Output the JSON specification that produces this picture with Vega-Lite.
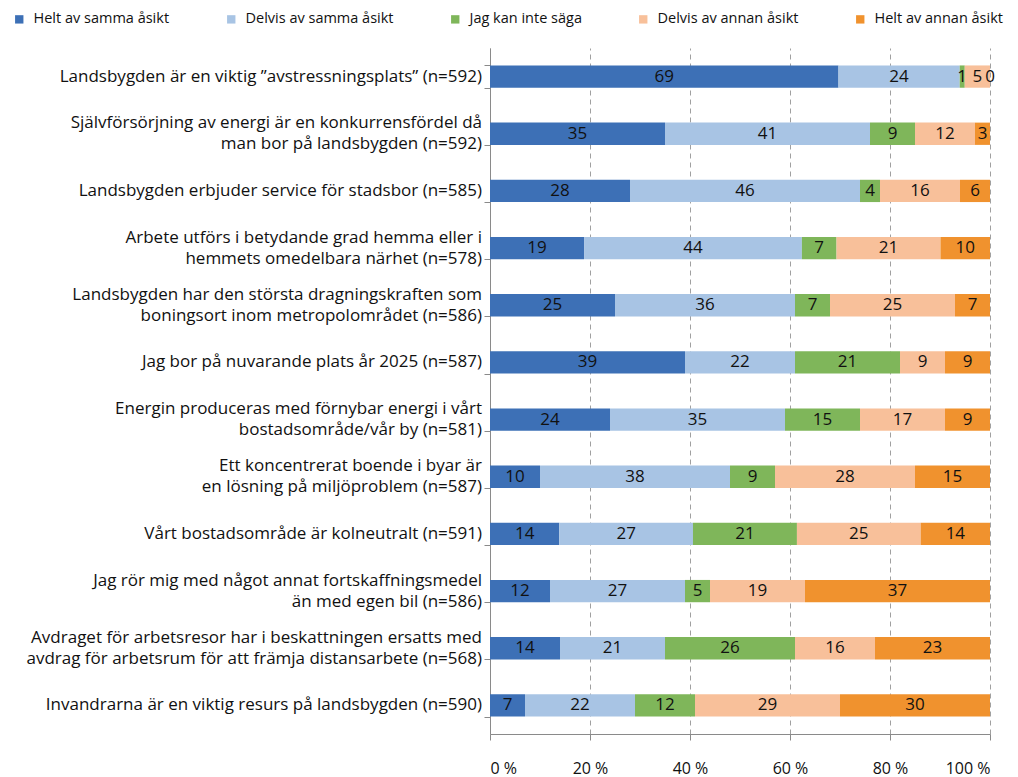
{
  "$schema": "https://vega.github.io/schema/vega-lite/v6.json",
  "width": 500,
  "height": 686,
  "autosize": "none",
  "padding": {"left": 490, "top": 48, "right": 28, "bottom": 43},
  "background": "white",
  "config": {"view": {"stroke": null}, "font": "Open Sans"},
  "datasets": {
    "answers": [
      {"k": 1, "r": "Helt av samma åsikt"},
      {"k": 2, "r": "Delvis av samma åsikt"},
      {"k": 3, "r": "Jag kan inte säga"},
      {"k": 4, "r": "Delvis av annan åsikt"},
      {"k": 5, "r": "Helt av annan åsikt"}
    ],
    "rows": [
      {"i": 1, "q": "Landsbygden är en viktig ”avstressningsplats” (n=592)", "Helt av samma åsikt": 69, "Delvis av samma åsikt": 24, "Jag kan inte säga": 1, "Delvis av annan åsikt": 5, "Helt av annan åsikt": 0},
      {"i": 2, "q": "Självförsörjning av energi är en konkurrensfördel då|man bor på landsbygden (n=592)", "Helt av samma åsikt": 35, "Delvis av samma åsikt": 41, "Jag kan inte säga": 9, "Delvis av annan åsikt": 12, "Helt av annan åsikt": 3},
      {"i": 3, "q": "Landsbygden erbjuder service för stadsbor (n=585)", "Helt av samma åsikt": 28, "Delvis av samma åsikt": 46, "Jag kan inte säga": 4, "Delvis av annan åsikt": 16, "Helt av annan åsikt": 6},
      {"i": 4, "q": "Arbete utförs i betydande grad hemma eller i|hemmets omedelbara närhet (n=578)", "Helt av samma åsikt": 19, "Delvis av samma åsikt": 44, "Jag kan inte säga": 7, "Delvis av annan åsikt": 21, "Helt av annan åsikt": 10},
      {"i": 5, "q": "Landsbygden har den största dragningskraften som|boningsort inom metropolområdet (n=586)", "Helt av samma åsikt": 25, "Delvis av samma åsikt": 36, "Jag kan inte säga": 7, "Delvis av annan åsikt": 25, "Helt av annan åsikt": 7},
      {"i": 6, "q": "Jag bor på nuvarande plats år 2025 (n=587)", "Helt av samma åsikt": 39, "Delvis av samma åsikt": 22, "Jag kan inte säga": 21, "Delvis av annan åsikt": 9, "Helt av annan åsikt": 9},
      {"i": 7, "q": "Energin produceras med förnybar energi i vårt|bostadsområde/vår by (n=581)", "Helt av samma åsikt": 24, "Delvis av samma åsikt": 35, "Jag kan inte säga": 15, "Delvis av annan åsikt": 17, "Helt av annan åsikt": 9},
      {"i": 8, "q": "Ett koncentrerat boende i byar är|en lösning på miljöproblem (n=587)", "Helt av samma åsikt": 10, "Delvis av samma åsikt": 38, "Jag kan inte säga": 9, "Delvis av annan åsikt": 28, "Helt av annan åsikt": 15},
      {"i": 9, "q": "Vårt bostadsområde är kolneutralt (n=591)", "Helt av samma åsikt": 14, "Delvis av samma åsikt": 27, "Jag kan inte säga": 21, "Delvis av annan åsikt": 25, "Helt av annan åsikt": 14},
      {"i": 10, "q": "Jag rör mig med något annat fortskaffningsmedel|än med egen bil (n=586)", "Helt av samma åsikt": 12, "Delvis av samma åsikt": 27, "Jag kan inte säga": 5, "Delvis av annan åsikt": 19, "Helt av annan åsikt": 37},
      {"i": 11, "q": "Avdraget för arbetsresor har i beskattningen ersatts med|avdrag för arbetsrum för att främja distansarbete (n=568)", "Helt av samma åsikt": 14, "Delvis av samma åsikt": 21, "Jag kan inte säga": 26, "Delvis av annan åsikt": 16, "Helt av annan åsikt": 23},
      {"i": 12, "q": "Invandrarna är en viktig resurs på landsbygden (n=590)", "Helt av samma åsikt": 7, "Delvis av samma åsikt": 22, "Jag kan inte säga": 12, "Delvis av annan åsikt": 29, "Helt av annan åsikt": 30}
    ]
  },
  "data": {"name": "rows"},
  "transform": [
    {"fold": ["Helt av samma åsikt", "Delvis av samma åsikt", "Jag kan inte säga", "Delvis av annan åsikt", "Helt av annan åsikt"], "as": ["r", "v"]},
    {"lookup": "r", "from": {"data": {"name": "answers"}, "key": "r", "fields": ["k"]}}
  ],
  "encoding": {
    "y": {
      "field": "q", "type": "nominal", "sort": {"field": "i", "op": "min"}, "title": null,
      "scale": {"paddingInner": 0.61, "paddingOuter": 0.305},
      "axis": {
        "labels": false,
        "domainColor": "#8a8a8a", "tickColor": "#8a8a8a",
        "tickBand": "extent", "tickSize": 6, "grid": false
      }
    },
    "order": {"field": "k", "type": "quantitative"}
  },
  "layer": [
    {
      "mark": {"type": "bar"},
      "encoding": {
        "x": {
          "field": "v", "type": "quantitative", "stack": "normalize", "title": null,
          "scale": {"domain": [0, 1]},
          "axis": {
            "values": [0, 0.2, 0.4, 0.6, 0.8, 1],
            "labelExpr": "round(datum.value*100) + ' %'",
            "labelFontSize": 16, "labelColor": "#111111", "labelPadding": 20,
            "grid": true, "gridDash": [5, 4], "gridColor": "#a0a0a0",
            "domainColor": "#8a8a8a", "tickColor": "#8a8a8a", "tickSize": 6
          }
        },
        "color": {
          "field": "r", "type": "nominal",
          "scale": {
            "domain": ["Helt av samma åsikt", "Delvis av samma åsikt", "Jag kan inte säga", "Delvis av annan åsikt", "Helt av annan åsikt"],
            "range": ["#3d70b6", "#a8c4e4", "#7fb65a", "#f8c09a", "#f0922e"]
          },
          "legend": {
            "orient": "none", "legendX": -478, "legendY": -36, "direction": "horizontal",
            "title": null, "symbolType": "square", "symbolSize": 70, "symbolStrokeWidth": 0,
            "labelFontSize": 14.5, "labelColor": "#111111", "columnPadding": 54, "labelOffset": 7
          }
        }
      }
    },
    {
      "mark": {"type": "text", "fontSize": 17, "color": "#111111", "baseline": "middle"},
      "encoding": {
        "x": {"field": "v", "type": "quantitative", "stack": "normalize", "bandPosition": 0.5},
        "text": {"field": "v", "type": "quantitative"}
      }
    },
    {
      "transform": [{"filter": "datum.k == 1"}],
      "mark": {
        "type": "text", "align": "right", "baseline": "middle", "dx": -8,
        "fontSize": 17, "color": "#111111", "lineBreak": "|", "lineHeight": 21,
        "dy": {"expr": "indexof(datum.q, '|') >= 0 ? -10.5 : 0"}
      },
      "encoding": {
        "x": {"datum": 0, "type": "quantitative"},
        "text": {"field": "q", "type": "nominal"}
      }
    }
  ]
}
